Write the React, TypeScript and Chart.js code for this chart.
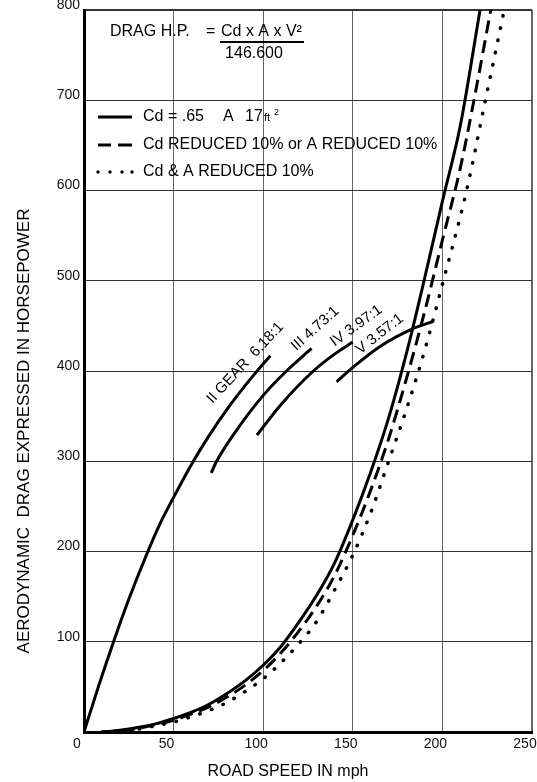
import React, { useEffect, useRef } from 'react';
import { Chart, registerables } from 'chart.js';

Chart.register(...registerables);

// Road speed (mph) and drag horsepower
const baseSpeed = [10, 20, 30, 40, 50, 60, 70, 80, 90, 100, 110, 120, 130, 140, 150, 160, 170, 180, 190, 200, 210, 221];
const baseHp = [0, 2, 5, 9, 15, 22, 31, 43, 57, 74, 95, 122, 152, 188, 235, 288, 348, 420, 502, 588, 672, 800];

const dashSpeed = [10, 20, 30, 40, 50, 60, 70, 80, 90, 100, 110, 120, 130, 140, 150, 160, 170, 180, 190, 200, 210, 217.6, 227];
const dashHp = [0, 1, 4, 8, 13, 20, 28, 39, 52, 68, 88, 112, 140, 174, 218, 268, 325, 392, 465, 545, 625, 700, 800];

const dotSpeed = [10, 20, 30, 40, 50, 60, 70, 80, 90, 100, 110, 120, 130, 140, 150, 160, 170, 180, 190, 200, 213.5, 224, 234.5];
const dotHp = [0, 1, 3, 7, 11, 17, 24, 33, 45, 59, 77, 98, 123, 158, 196, 243, 300, 358, 422, 496, 600, 700, 800];

const gear2Speed = [0, 8, 16.5, 25, 35, 42, 50, 61, 70, 80, 90, 97, 104];
const gear2Hp = [0, 50, 100, 147, 197, 229, 260, 300, 329, 358, 384, 401, 417];

const gear3Speed = [71, 74, 85, 100, 113, 127];
const gear3Hp = [287, 300, 334, 373, 400, 425];

const gear4Speed = [96.5, 110, 128, 140, 150];
const gear4Hp = [329, 363, 400, 419, 432];

const gear5Speed = [141, 150, 165, 183.6, 195];
const gear5Hp = [388, 404, 427, 447, 455];

const gearLabels = ['II GEAR  6.18:1', 'III 4.73:1', 'IV 3.97:1', 'V 3.57:1'];
const gearLabelSpeed = [90, 129, 152, 165];
const gearLabelHp = [409, 447, 450, 441];
const gearLabelAngle = [-47, -42, -36, -38];

const legendLabels = ['Cd REDUCED 10% or A REDUCED 10%', 'Cd & A REDUCED 10%'];

const xTitle = 'ROAD SPEED IN mph';
const yTitle = 'AERODYNAMIC  DRAG EXPRESSED IN HORSEPOWER';

const FONT = '"Liberation Sans", Arial, Helvetica, sans-serif';

const pts = (xs: number[], ys: number[]) => xs.map((v, i) => ({ x: v, y: ys[i] }));

const overlay = {
  id: 'overlay',
  afterDatasetsDraw(chart: any) {
    const { ctx, chartArea: a, scales } = chart;
    const xs = scales.x;
    const ys = scales.y;
    ctx.save();
    ctx.fillStyle = '#000';
    ctx.strokeStyle = '#000';
    ctx.textBaseline = 'middle';
    ctx.textAlign = 'left';

    // Formula
    ctx.font = `16px ${FONT}`;
    ctx.fillText('DRAG H.P.', a.left + 26, a.top + 22);
    ctx.fillText('=', a.left + 122, a.top + 22);
    ctx.fillText('Cd x A x V²', a.left + 137, a.top + 22);
    ctx.lineWidth = 2;
    ctx.beginPath();
    ctx.moveTo(a.left + 136, a.top + 32);
    ctx.lineTo(a.left + 220, a.top + 32);
    ctx.stroke();
    ctx.textAlign = 'center';
    ctx.fillText('146.600', a.left + 170, a.top + 44);
    ctx.textAlign = 'left';

    // Legend
    const sx0 = a.left + 14;
    const sx1 = a.left + 48;
    const tx = a.left + 59;
    const r1 = a.top + 107;
    const r2 = a.top + 135;
    const r3 = a.top + 162;
    ctx.lineWidth = 3;
    ctx.lineCap = 'butt';
    ctx.beginPath();
    ctx.moveTo(sx0, r1);
    ctx.lineTo(sx1, r1);
    ctx.stroke();
    ctx.beginPath();
    ctx.moveTo(sx0, r2);
    ctx.lineTo(sx0 + 13, r2);
    ctx.moveTo(sx0 + 20, r2);
    ctx.lineTo(sx1, r2);
    ctx.stroke();
    [0, 12, 24, 34].forEach((d) => {
      ctx.beginPath();
      ctx.arc(sx0 + d, r3, 1.7, 0, Math.PI * 2);
      ctx.fill();
    });
    ctx.font = `16px ${FONT}`;
    ctx.fillText('Cd = .65', tx, r1);
    ctx.fillText('A', tx + 80, r1);
    ctx.fillText('17', tx + 102, r1);
    ctx.font = `11px ${FONT}`;
    ctx.fillText('ft', tx + 121, r1 + 1);
    ctx.font = `9px ${FONT}`;
    ctx.fillText('2', tx + 131, r1 - 4);
    ctx.font = `16px ${FONT}`;
    ctx.fillText(legendLabels[0], tx, r2);
    ctx.fillText(legendLabels[1], tx, r3);

    // Gear labels
    ctx.font = `15px ${FONT}`;
    ctx.textAlign = 'center';
    gearLabels.forEach((t, i) => {
      ctx.save();
      ctx.translate(xs.getPixelForValue(gearLabelSpeed[i]), ys.getPixelForValue(gearLabelHp[i]));
      ctx.rotate((gearLabelAngle[i] * Math.PI) / 180);
      ctx.fillText(t, 0, 0);
      ctx.restore();
    });

    // Axis titles
    ctx.font = `16px ${FONT}`;
    ctx.fillText(xTitle, a.left + 204, a.bottom + 40);
    ctx.save();
    ctx.translate(24, a.top + 421);
    ctx.rotate(-Math.PI / 2);
    ctx.font = `17px ${FONT}`;
    ctx.fillText(yTitle, 0, 0);
    ctx.restore();

    ctx.restore();
  },
};

export default function App() {
  const ref = useRef<HTMLCanvasElement | null>(null);

  useEffect(() => {
    if (!ref.current) return;
    const line = (data: any, extra: any = {}) => ({
      data,
      borderColor: '#000',
      borderWidth: 3,
      pointRadius: 0,
      tension: 0.4,
      cubicInterpolationMode: 'monotone',
      fill: false,
      ...extra,
    });
    const zeroPad = (s: any) => {
      s.paddingLeft = 0;
      s.paddingRight = 0;
      s.paddingTop = 0;
      s.paddingBottom = 0;
    };
    const chart = new Chart(ref.current, {
      type: 'line',
      data: {
        datasets: [
          line(pts(baseSpeed, baseHp)),
          line(pts(dashSpeed, dashHp), { borderDash: [13, 7] }),
          line(pts(dotSpeed, dotHp), { borderDash: [0.5, 12], borderCapStyle: 'round', borderWidth: 3.5 }),
          line(pts(gear2Speed, gear2Hp)),
          line(pts(gear3Speed, gear3Hp)),
          line(pts(gear4Speed, gear4Hp)),
          line(pts(gear5Speed, gear5Hp)),
        ] as any,
      },
      options: {
        animation: false,
        responsive: false,
        layout: { padding: { top: 10, right: 5, left: 0, bottom: 0 } },
        plugins: { legend: { display: false }, tooltip: { enabled: false } },
        scales: {
          x: {
            type: 'linear',
            min: 0,
            max: 250,
            afterFit: (s: any) => {
              s.height = 50;
              zeroPad(s);
            },
            ticks: {
              stepSize: 50,
              color: '#111',
              font: { family: FONT, size: 14 },
              padding: 4,
              labelOffset: -7,
              maxRotation: 0,
            },
            grid: {
              color: '#666',
              lineWidth: (c: any) => (c.tick && c.tick.value === 250 ? 2 : 1),
              drawTicks: false,
            },
            border: { color: '#000', width: 3 },
          },
          y: {
            type: 'linear',
            min: 0,
            max: 800,
            afterFit: (s: any) => {
              s.width = 84;
              zeroPad(s);
            },
            ticks: {
              stepSize: 100,
              color: '#111',
              font: { family: FONT, size: 14 },
              padding: 4,
              labelOffset: -5,
              callback: (v: any) => (v === 0 ? '' : v),
            },
            grid: {
              color: '#333',
              lineWidth: (c: any) => (c.tick && c.tick.value === 800 ? 2 : 1),
              drawTicks: false,
            },
            border: { color: '#000', width: 3 },
          },
        },
      } as any,
      plugins: [overlay],
    });
    return () => chart.destroy();
  }, []);

  return (
    <div style={{ position: 'absolute', left: 0, top: 0, width: 537, height: 782, background: '#fff' }}>
      <canvas ref={ref} width={537} height={782} />
    </div>
  );
}
